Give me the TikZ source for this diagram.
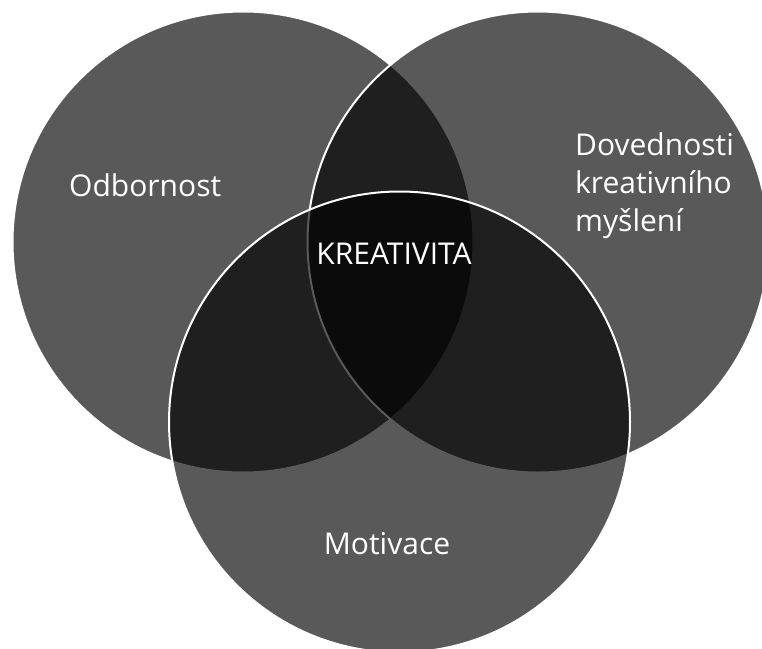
\documentclass[tikz,border=0pt]{standalone}
\usepackage{fontspec}
\setmainfont{Open Sans}
\begin{document}
\begin{tikzpicture}[x=1pt,y=-1pt,
  ring/.style={circle, minimum size=461pt, inner sep=0pt,
    fill=black, fill opacity=0.65, draw=white, draw opacity=1, line width=2pt},
  label/.style={text=white, inner sep=0pt, font=\fontsize{30}{38}\selectfont}]
  \useasboundingbox (0,0) rectangle (762,648);
  % three overlapping circles, drawn in order so later fills cover earlier outlines
  \node[ring] (expertise) at (243,242) {};
  \node[ring] (thinking)  at (538,242) {};
  \node[ring] (motivation) at (399.5,422) {};
  % labels
  \node[label, anchor=base west] (lexp) at (69,196) {Odbornost};
  \node[label, anchor=north west, align=left] (lthink) at (575,133)
    {Dovednosti\\kreativního\\myšlení};
  \node[label, anchor=base] (lmot) at (387,554) {Motivace};
  \node[label, anchor=base] (lcre) at (394,264) {KREATIVITA};
\end{tikzpicture}
\end{document}
